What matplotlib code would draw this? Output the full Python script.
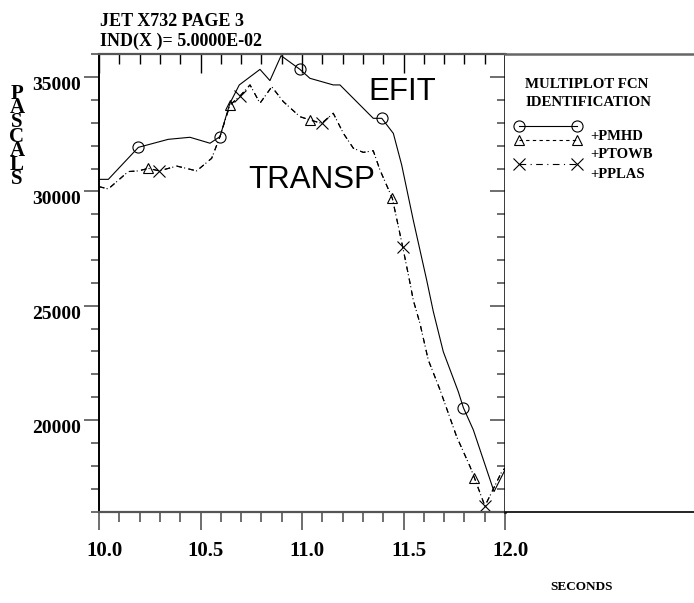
import matplotlib
matplotlib.use("Agg")
import matplotlib.pyplot as plt
from matplotlib.ticker import FixedLocator, MultipleLocator
from matplotlib.transforms import ScaledTranslation

# PMHD from EFIT (solid, circles)
t_mhd = [10.0, 10.046, 10.194, 10.341, 10.448, 10.547, 10.596, 10.645, 10.691,
         10.793, 10.842, 10.897, 10.99, 11.039, 11.154, 11.187, 11.351, 11.393,
         11.45, 11.491, 11.548, 11.614, 11.647, 11.696, 11.77, 11.795, 11.844,
         11.946, 12.0]
p_mhd = [30530, 30530, 31930, 32280, 32370, 32110, 32400, 33860, 34660,
         35340, 34850, 35940, 35340, 34950, 34660, 34660, 33200, 33200,
         32540, 31160, 28750, 26130, 24740, 22990, 21240, 20540, 19570,
         16870, 17820]
mhd_marks = [2, 6, 12, 17, 25]

# TRANSP pressures on a common time base
t_tr = [10.0, 10.046, 10.144, 10.194, 10.243, 10.297, 10.383, 10.481, 10.555,
        10.596, 10.645, 10.695, 10.744, 10.793, 10.851, 10.908, 10.99, 11.039,
        11.097, 11.154, 11.204, 11.253, 11.302, 11.351, 11.384, 11.445, 11.496,
        11.532, 11.548, 11.581, 11.622, 11.68, 11.762, 11.828, 11.849, 11.901,
        11.984, 12.0]
p_towb = [30210, 30110, 30870, 30900, 31010, 30900, 31110, 30900, 31450,
          32400, 33780, 34180, 34660, 33860, 34580, 33930, 33270, 33130,
          32980, 33420, 32540, 31890, 31710, 31780, 30940, 29700, 27580,
          26000, 25250, 24230, 22630, 21320, 19270, 17960, 17480, 16240,
          17740, 17900]
p_plas = [30210, 30110, 30870, 30900, 31010, 30900, 31110, 30900, 31450,
          32400, 33780, 34180, 34660, 33860, 34580, 33930, 33270, 33130,
          32980, 33420, 32540, 31890, 31710, 31780, 30940, 29700, 27580,
          26000, 25250, 24230, 22630, 21320, 19270, 17960, 17480, 16240,
          17740, 17900]
towb_marks = [4, 10, 17, 25, 34]
plas_marks = [5, 11, 18, 26, 35]

x_ticks = [10.0, 10.5, 11.0, 11.5, 12.0]
x_labels = ["10.0", "10.5", "11.0", "11.5", "12.0"]
y_ticks = [20000, 25000, 30000, 35000]
y_labels = ["20000", "25000", "30000", "35000"]
legend_names = ["+PMHD", "+PTOWB", "+PPLAS"]

W, H = 694, 603
SERIF = dict(family="Liberation Serif", weight="bold")
# same period for both patterns so the overlapping TRANSP curves keep their gaps
DASHED = (0, (5, 6))
DASHDOT = (0, (5, 2, 1, 3))
LEG_DASHED = (0, (3, 3))
LEG_DASHDOT = (0, (6, 4, 1, 4))


def box(x0, y0, x1, y1):
    # pixel rectangle -> figure fraction [left, bottom, width, height]
    return [x0 / W, 1 - y1 / H, (x1 - x0) / W, (y1 - y0) / H]


fig = plt.figure(figsize=(W / 100, H / 100), dpi=100)
ax = fig.add_axes(box(99, 54.3, 505, 511.5))
panel = fig.add_axes(box(505, 54.3, 694, 511.5))

ax.plot(t_mhd, p_mhd, color="black", lw=0.8, marker="o", ms=8, mfc="none",
        mew=0.8, markevery=mhd_marks, clip_on=False)
ax.plot(t_tr, p_towb, color="black", lw=0.8, ls=DASHED, marker="^", ms=7,
        mfc="none", mew=0.8, markevery=towb_marks, clip_on=False)
ax.plot(t_tr, p_plas, color="black", lw=0.8, ls=DASHDOT, marker="x", ms=9,
        mew=0.8, markevery=plas_marks, clip_on=False)

ax.set_xlim(10, 12)
ax.set_ylim(16000, 36000)

ax.set_xticks(x_ticks, x_labels, fontsize=15, **SERIF)
ax.set_yticks(y_ticks, y_labels, fontsize=14, va="top", **SERIF)
ax.xaxis.set_minor_locator(MultipleLocator(0.1))
ax.yaxis.set_minor_locator(MultipleLocator(1000))
ax.tick_params(axis="x", which="major", direction="out", length=13, width=1.2,
               color="#555555", pad=8)
ax.tick_params(axis="x", which="minor", direction="out", length=7, width=1.2,
               color="#555555")
ax.tick_params(axis="y", which="major", direction="out", length=11, width=1.2,
               color="#555555", pad=2)
ax.tick_params(axis="y", which="minor", direction="out", length=6, width=1.2,
               color="#555555")
shift = ScaledTranslation(5 / 100, 0, fig.dpi_scale_trans)
for lab in ax.get_xticklabels():
    lab.set_transform(lab.get_transform() + shift)

# inward ticks on the top and right edges
top = ax.secondary_xaxis("top")
top.xaxis.set_major_locator(FixedLocator(x_ticks))
top.xaxis.set_minor_locator(MultipleLocator(0.1))
top.tick_params(which="major", direction="in", length=14, width=1, labeltop=False)
top.tick_params(which="minor", direction="in", length=7, width=1)
top.spines["top"].set_visible(False)

right = ax.secondary_yaxis("right")
right.yaxis.set_major_locator(FixedLocator(y_ticks))
right.yaxis.set_minor_locator(MultipleLocator(1000))
right.tick_params(which="major", direction="in", length=11, width=1.2,
                  color="#555555", labelright=False)
right.tick_params(which="minor", direction="in", length=6, width=1.2,
                  color="#555555")
right.spines["right"].set_visible(False)

ax.spines["left"].set(color="black", lw=1.4)
ax.spines["bottom"].set(color="#555555", lw=1.6)
ax.spines["top"].set(color="#555555", lw=1.6)
ax.spines["right"].set(color="black", lw=1.8)

ax.text(11.325, 34350, "EFIT", family="Liberation Sans", fontsize=22.5,
        ha="left", va="center")
ax.text(10.734, 30500, "TRANSP", family="Liberation Sans", fontsize=22.5,
        ha="left", va="center")

# identification panel on the right, laid out in pixel units
panel.set_xlim(505, 694)
panel.set_ylim(511.5, 54.3)
panel.set_xticks([])
panel.set_yticks([])
panel.spines["left"].set_visible(False)
panel.spines["right"].set_visible(False)
panel.spines["top"].set(color="#666666", lw=1.8)
panel.spines["bottom"].set(color="black", lw=1.2)

panel.text(525, 84, "MULTIPLOT FCN", fontsize=10.7, ha="left", va="center", **SERIF)
panel.text(525, 102, "IDENTIFICATION", fontsize=10.7, ha="left", va="center", **SERIF)
legend_styles = [dict(ls="-", marker="o", ms=8),
                 dict(ls=LEG_DASHED, marker="^", ms=7),
                 dict(ls=LEG_DASHDOT, marker="x", ms=9)]
legend_y = [126, 140, 164]
label_y = [137, 155, 175]
for name, st, ly, ty in zip(legend_names, legend_styles, legend_y, label_y):
    panel.plot([519, 577], [ly, ly], color="black", lw=0.8, mfc="none",
               mew=0.8, clip_on=False, **st)
    panel.text(590, ty, name, fontsize=10.5, ha="left", va="center", **SERIF)

fig.text(100 / W, 1 - 21.7 / H, "JET X732 PAGE 3", fontsize=13, ha="left",
         va="center", **SERIF)
fig.text(100 / W, 1 - 41 / H, "IND(X )= 5.0000E-02", fontsize=13, ha="left",
         va="center", **SERIF)
fig.text(17 / W, 1 - 136.5 / H, "\n".join("PASCALS"), fontsize=15, ha="center",
         va="center", linespacing=0.62, **SERIF)
fig.text(550 / W, 1 - 587 / H, "SECONDS", fontsize=9.5, ha="left", va="center",
         **SERIF)

fig.savefig("out.png", dpi=100)
